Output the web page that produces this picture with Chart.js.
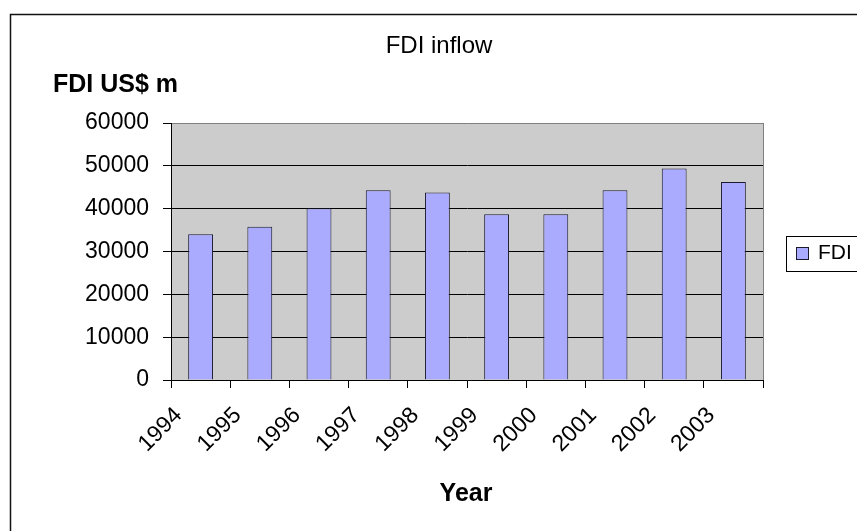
<!DOCTYPE html>
<html>
<head>
<meta charset="utf-8">
<script src="https://cdn.jsdelivr.net/npm/chart.js@4/dist/chart.umd.min.js"></script>
<style>
  html, body { margin: 0; padding: 0; background: #fff; }
  #wrap { position: relative; width: 857px; height: 531px; }
  canvas { display: block; }
</style>
</head>
<body>
<div id="wrap"><canvas id="c" width="857" height="531"></canvas></div>
<script>
const categories = ['1994', '1995', '1996', '1997', '1998', '1999', '2000', '2001', '2002', '2003'];
const fdiValues = [34000, 35800, 40100, 44300, 43800, 38700, 38700, 44300, 49400, 46200];
const yTickValues = [0, 10000, 20000, 30000, 40000, 50000, 60000];
const seriesName = 'FDI';
const chartTitle = 'FDI inflow';
const yTitle = 'FDI US$ m';
const xTitle = 'Year';

const FONT = '"Liberation Sans", Arial, sans-serif';
const BAR_FILL = '#AAAAFF';
const BAR_EDGE = '#1a1a2e';

const decor = {
  id: 'decor',
  beforeDraw(chart) {
    const ctx = chart.ctx, a = chart.chartArea;
    ctx.save();
    ctx.fillStyle = '#ffffff';
    ctx.fillRect(0, 0, chart.width, chart.height);
    ctx.fillStyle = '#CCCCCC';
    ctx.fillRect(a.left, a.top, a.right - a.left, a.bottom - a.top);
    ctx.restore();
  },
  afterDraw(chart) {
    const ctx = chart.ctx, a = chart.chartArea;
    ctx.save();
    ctx.strokeStyle = '#808080';
    ctx.lineWidth = 1;
    ctx.beginPath();
    ctx.moveTo(Math.round(a.right) + 0.5, a.top);
    ctx.lineTo(Math.round(a.right) + 0.5, a.bottom);
    ctx.stroke();
    ctx.strokeStyle = '#111';
    ctx.lineWidth = 1.5;
    ctx.beginPath();
    ctx.moveTo(10.5, chart.height + 2);
    ctx.lineTo(10.5, 14.5);
    ctx.lineTo(chart.width + 2, 14.5);
    ctx.stroke();
    ctx.fillStyle = '#000';
    ctx.textBaseline = 'alphabetic';
    ctx.font = '24px ' + FONT;
    ctx.textAlign = 'center';
    ctx.fillText(chartTitle, 439, 52.5);
    ctx.font = 'bold 25px ' + FONT;
    ctx.textAlign = 'left';
    ctx.fillText(yTitle, 53, 91.5);
    ctx.textAlign = 'center';
    ctx.fillText(xTitle, 466, 500.5);
    ctx.fillStyle = '#fff';
    ctx.fillRect(786.5, 236.5, 80, 35);
    ctx.strokeStyle = '#000';
    ctx.lineWidth = 1;
    ctx.strokeRect(786.5, 236.5, 80, 35);
    ctx.fillStyle = BAR_FILL;
    ctx.fillRect(796.5, 247.5, 12, 12);
    ctx.strokeStyle = BAR_EDGE;
    ctx.strokeRect(796.5, 247.5, 12, 12);
    ctx.fillStyle = '#000';
    ctx.font = '21px ' + FONT;
    ctx.textAlign = 'left';
    ctx.fillText(seriesName, 818, 259);
    ctx.restore();
  }
};

new Chart(document.getElementById('c'), {
  type: 'bar',
  data: {
    labels: categories,
    datasets: [{
      label: seriesName,
      data: fdiValues,
      backgroundColor: BAR_FILL,
      borderColor: BAR_EDGE,
      borderWidth: 1,
      categoryPercentage: 0.42,
      barPercentage: 1.0
    }]
  },
  options: {
    responsive: false,
    animation: false,
    devicePixelRatio: 1,
    layout: { padding: { left: 0, top: 123, right: 94, bottom: 0 } },
    plugins: {
      legend: { display: false },
      title: { display: false },
      tooltip: { enabled: false }
    },
    scales: {
      x: {
        afterFit(scale) { scale.height = 151; },
        grid: {
          display: true,
          drawOnChartArea: false,
          drawTicks: true,
          tickLength: 8,
          color: '#000',
          offset: true
        },
        border: { display: true, color: '#000', width: 1 },
        ticks: {
          autoSkip: false,
          maxRotation: 45,
          minRotation: 45,
          labelOffset: -22,
          padding: 14,
          color: '#000',
          font: { family: FONT, size: 23 }
        }
      },
      y: {
        min: 0,
        max: 60000,
        afterFit(scale) { scale.width = 171; },
        afterBuildTicks(scale) { scale.ticks = yTickValues.map(v => ({ value: v })); },
        grid: {
          color: (c) => (c.tick && c.tick.value === 60000 ? '#808080' : '#000'),
          tickColor: '#000',
          tickLength: 8,
          lineWidth: 1
        },
        border: { display: true, color: '#000', width: 1 },
        ticks: {
          padding: 14,
          color: '#000',
          font: { family: FONT, size: 23 },
          callback: (v) => String(v)
        }
      }
    }
  },
  plugins: [decor]
});
</script>
</body>
</html>
